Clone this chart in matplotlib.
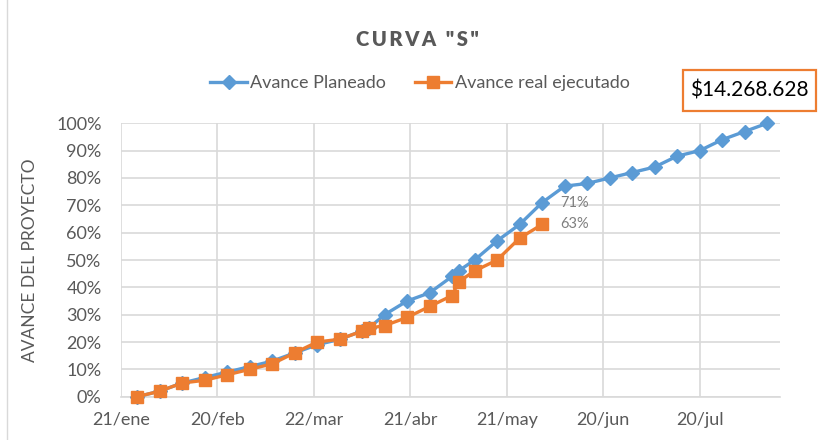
import matplotlib
matplotlib.use("Agg")
import matplotlib.pyplot as plt
from matplotlib.patches import Rectangle
from matplotlib.lines import Line2D
import numpy as np

plt.rcParams['font.family'] = ['Lato', 'DejaVu Sans']

# fechas de corte (semanales, con dos cortes extra)
fechas = ['2021-01-26', '2021-02-02', '2021-02-09', '2021-02-16', '2021-02-23',
          '2021-03-02', '2021-03-09', '2021-03-16', '2021-03-23', '2021-03-30',
          '2021-04-06', '2021-04-08', '2021-04-13', '2021-04-20', '2021-04-27',
          '2021-05-04', '2021-05-06', '2021-05-11', '2021-05-18', '2021-05-25',
          '2021-06-01', '2021-06-08', '2021-06-15', '2021-06-22', '2021-06-29',
          '2021-07-06', '2021-07-13', '2021-07-20', '2021-07-27', '2021-08-03',
          '2021-08-10']
planeado = [0, 2, 5, 7, 9, 11, 13, 16, 19, 21, 24, 25, 30, 35, 38, 44, 46, 50,
            57, 63, 71, 77, 78, 80, 82, 84, 88, 90, 94, 97, 100]
ejecutado = [0, 2, 5, 6, 8, 10, 12, 16, 20, 21, 24, 25, 26, 29, 33, 37, 42, 46,
             50, 58, 63]

tick_fechas = ['2021-01-21', '2021-02-20', '2021-03-22', '2021-04-21',
               '2021-05-21', '2021-06-20', '2021-07-20']
tick_labels = ['21/ene', '20/feb', '22/mar', '21/abr', '21/may', '20/jun', '20/jul']
valor_total = '$14.268.628'

azul = '#5B9BD5'
naranja = '#ED7D31'
gris = '#595959'

x_plan = np.array(fechas, dtype='datetime64[D]')
x_real = x_plan[:len(ejecutado)]
y_plan = np.array(planeado) / 100
y_real = np.array(ejecutado) / 100

fig = plt.figure(figsize=(8.19, 4.40), dpi=100)
ax = fig.add_axes([121/819, 1 - 396.7/440, (780 - 121)/819, (396.7 - 123.3)/440])

ax.plot(x_plan, y_plan, color=azul, lw=2.4, marker='D', ms=7.5, zorder=3, clip_on=False)
ax.plot(x_real, y_real, color=naranja, lw=2.4, marker='s', ms=9, zorder=4, clip_on=False)

# etiquetas del ultimo punto
i = len(ejecutado) - 1
ax.annotate(f'{planeado[i]}%', (x_plan[i], y_plan[i]),
            xytext=(13, 0), textcoords='offset points', va='center', ha='left',
            fontsize=10.5, color='#7F7F7F')
ax.annotate(f'{ejecutado[i]}%', (x_real[i], y_real[i]),
            xytext=(13, 0), textcoords='offset points', va='center', ha='left',
            fontsize=10.5, color='#7F7F7F')

ax.set_xlim(np.datetime64('2021-01-21'), np.datetime64('2021-01-21') + np.timedelta64(205, 'D'))
ax.set_ylim(0, 1)
ax.set_xticks(np.array(tick_fechas, dtype='datetime64[D]'))
ax.set_xticklabels(tick_labels)
ax.set_yticks(np.arange(0, 1.01, 0.1))
ax.set_yticklabels([f'{int(round(v * 100))}%' for v in np.arange(0, 1.01, 0.1)])
ax.tick_params(axis='both', length=0, labelsize=13, colors=gris)
ax.tick_params(axis='y', pad=14)
ax.tick_params(axis='x', pad=11)
ax.grid(True, color='#D9D9D9', lw=1.2)
ax.set_axisbelow(True)
for s in ['top', 'right', 'left']:
    ax.spines[s].set_visible(False)
ax.spines['bottom'].set_color('#D9D9D9')
ax.spines['bottom'].set_linewidth(1.2)

ax.set_ylabel('AVANCE DEL PROYECTO', fontsize=12.5, color=gris, labelpad=13)

fig.text(417/819, 1 - 40/440, '\u2009'.join('CURVA "S"'), ha='center', va='center',
         fontsize=14.5, fontweight='heavy', color=gris)

handles = [Line2D([], [], color=azul, lw=2.4, marker='D', ms=7.5),
           Line2D([], [], color=naranja, lw=2.4, marker='s', ms=9)]
fig.legend(handles, ['Avance Planeado', 'Avance real ejecutado'], loc='center',
           bbox_to_anchor=(420/819, 1 - 83.3/440), ncol=2, frameon=False,
           fontsize=13, labelcolor=gris, handlelength=2.0, handletextpad=0.2,
           columnspacing=1.6)

# recuadro con el valor del proyecto
fig.add_artist(Rectangle((683/819, 1 - 111/440), 133/819, 41/440,
                         transform=fig.transFigure, fill=False,
                         edgecolor=naranja, lw=1.6))
fig.text((683 + 66.5)/819, 1 - 90.5/440, valor_total, ha='center', va='center',
         fontsize=15, color='black')

# borde del grafico
fig.add_artist(Line2D([7/819, 7/819], [0, 1], transform=fig.transFigure,
                      color='#D9D9D9', lw=1))

fig.savefig('out.png', dpi=100)
